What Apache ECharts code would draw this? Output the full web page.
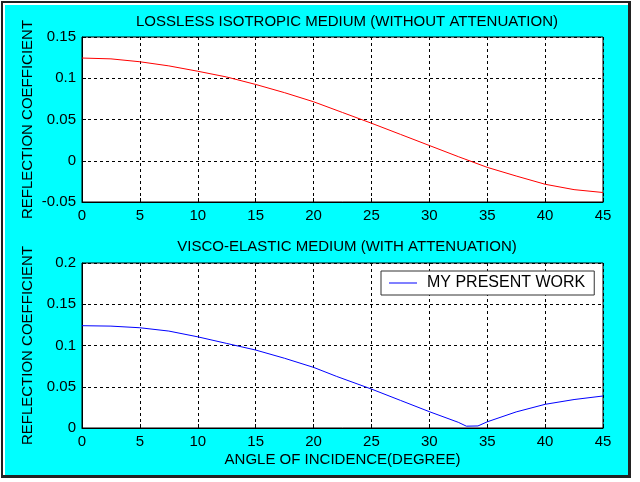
<!DOCTYPE html>
<html>
<head>
<meta charset="utf-8">
<script src="https://cdn.jsdelivr.net/npm/echarts@6/dist/echarts.min.js"></script>
<style>
html,body{margin:0;padding:0;background:#fff;width:640px;height:482px;overflow:hidden;}
#frame{position:absolute;left:1px;top:1px;width:630px;height:477px;border-left:2px solid #222;border-top:2px solid #222;border-right:3px solid #222;border-bottom:3px solid #222;box-sizing:border-box;background:#fff;}
#cyan{position:absolute;left:5px;top:5px;width:623px;height:470px;background:#00ffff;}
#chart{position:absolute;left:0;top:0;width:640px;height:482px;}
</style>
</head>
<body>
<div id="frame"></div>
<div id="cyan"></div>
<div id="chart"></div>
<script>
// ---- data ----
var topTitle = 'LOSSLESS ISOTROPIC MEDIUM (WITHOUT ATTENUATION)';
var bottomTitle = 'VISCO-ELASTIC MEDIUM (WITH ATTENUATION)';
var yName = 'REFLECTION COEFFICIENT';
var xName = 'ANGLE OF INCIDENCE(DEGREE)';
var legendName = 'MY PRESENT WORK';

var topAngles = [0, 2.5, 5, 7.5, 10, 12.5, 15, 17.5, 20, 22.5, 25, 27.5, 30, 32.5, 35, 37.5, 40, 42.5, 45];
var topValues = [0.1245, 0.1235, 0.1200, 0.1150, 0.1085, 0.1015, 0.0925, 0.0825, 0.0715, 0.0585, 0.0455, 0.0320, 0.0185, 0.0050, -0.0080, -0.0185, -0.0285, -0.0350, -0.0385];

var bottomAngles = [0, 2.5, 5, 7.5, 10, 12.5, 15, 17.5, 20, 22, 25, 27.5, 30, 32.5, 33.2, 34.2, 35, 37.5, 40, 42.5, 45];
var bottomValues = [0.1240, 0.1235, 0.1215, 0.1175, 0.1105, 0.1025, 0.0945, 0.0845, 0.0735, 0.0625, 0.0472, 0.0335, 0.0198, 0.0069, 0.0022, 0.0025, 0.0075, 0.0195, 0.0287, 0.0345, 0.0388];

var topY = {min: -0.05, max: 0.15, interval: 0.05};
var bottomY = {min: 0, max: 0.2, interval: 0.05};
var xRange = {min: 0, max: 45, interval: 5};

function pairs(xs, ys){ return xs.map(function(x,i){ return [x, ys[i]]; }); }

var FONT = 'Liberation Sans, Arial, sans-serif';
var txt = {color:'#000', fontFamily: FONT, fontSize: 15};

function xAxisCfg(gi, withName){
  var a = {
    type:'value', gridIndex: gi, min: xRange.min, max: xRange.max, interval: xRange.interval,
    axisLine:{show:true, onZero:false, lineStyle:{color:'#000', width:1}},
    axisTick:{show:true, inside:true, length:4, lineStyle:{color:'#000'}},
    axisLabel:Object.assign({margin:6}, txt),
    splitLine:{show:true, lineStyle:{color:'#000', type:[3,3], width:1}}
  };
  if (withName){
    a.name = xName; a.nameLocation = 'middle'; a.nameGap = 24;
    a.nameTextStyle = Object.assign({}, txt);
  }
  return a;
}
function yAxisCfg(gi, r){
  return {
    type:'value', gridIndex: gi, min: r.min, max: r.max, interval: r.interval,
    name: yName, nameLocation:'middle', nameGap: 47, nameMoveOverlap: false, nameTextStyle: Object.assign({}, txt),
    axisLine:{show:true, onZero:false, lineStyle:{color:'#000', width:1}},
    axisTick:{show:true, inside:true, length:4, lineStyle:{color:'#000'}},
    axisLabel:Object.assign({margin:6}, txt),
    splitLine:{show:true, lineStyle:{color:'#000', type:[3,3], width:1}}
  };
}

var chart = echarts.init(document.getElementById('chart'), null, {renderer:'canvas'});
chart.setOption({
  backgroundColor: 'transparent',
  animation: false,
  title: [
    {text: topTitle, left: 342, top: 9, textAlign:'center', textStyle: Object.assign({fontWeight:'normal'}, txt)},
    {text: bottomTitle, left: 342, top: 234, textAlign:'center', textStyle: Object.assign({fontWeight:'normal'}, txt)}
  ],
  grid: [
    {left: 82, top: 37, width: 521, height: 165, show:true, backgroundColor:'#fff', borderColor:'#000', borderWidth:1},
    {left: 82, top: 263, width: 521, height: 165, show:true, backgroundColor:'#fff', borderColor:'#000', borderWidth:1}
  ],
  xAxis: [xAxisCfg(0,false), xAxisCfg(1,true)],
  yAxis: [yAxisCfg(0, topY), yAxisCfg(1, bottomY)],
  legend: {
    data: [legendName], left: 381, top: 271,
    backgroundColor:'#fff', borderColor:'#333', borderWidth:1,
    padding:[4, 9, 4, 8], itemWidth: 28, itemHeight: 1, itemGap: 10,
    textStyle: Object.assign({padding:[0,0,0,5]}, txt, {fontSize: 16}),
    icon: 'rect',
    itemStyle: {color:'#0000ff'}
  },
  series: [
    {type:'line', xAxisIndex:0, yAxisIndex:0, data: pairs(topAngles, topValues), showSymbol:false, symbol:'none', lineStyle:{color:'#ff0000', width:1}, itemStyle:{color:'#ff0000'}},
    {type:'line', name: legendName, xAxisIndex:1, yAxisIndex:1, data: pairs(bottomAngles, bottomValues), showSymbol:false, symbol:'none', lineStyle:{color:'#0000ff', width:1}, itemStyle:{color:'#0000ff'}}
  ]
});
</script>
</body>
</html>
